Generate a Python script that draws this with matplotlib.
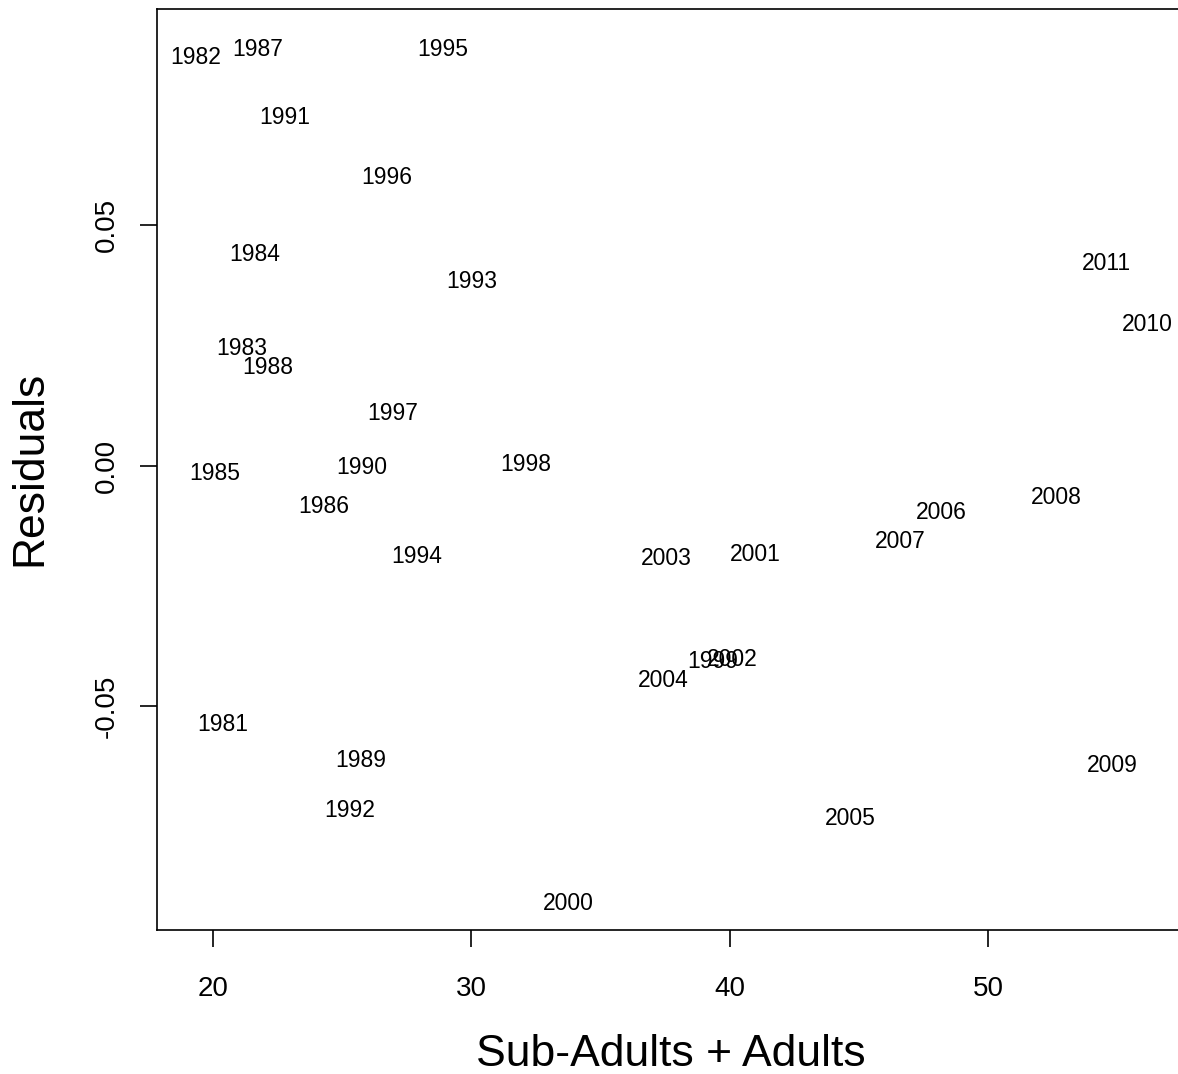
import matplotlib
matplotlib.use("Agg")
import matplotlib.pyplot as plt

plt.rcParams["font.family"] = ["Liberation Sans", "DejaVu Sans"]

# residuals of the model, one point per year, plotted as year labels
years = [1981, 1982, 1983, 1984, 1985, 1986, 1987, 1988, 1989, 1990,
         1991, 1992, 1993, 1994, 1995, 1996, 1997, 1998, 1999, 2000,
         2001, 2002, 2003, 2004, 2005, 2006, 2007, 2008, 2009, 2010, 2011]
sub_adults_adults = [20.37, 19.32, 21.13, 21.61, 20.05, 24.29, 21.74, 22.12, 25.72, 25.74,
                     22.76, 25.29, 30.03, 27.89, 28.90, 26.74, 26.96, 32.10, 39.35, 33.77,
                     40.98, 40.11, 37.56, 37.43, 44.67, 48.21, 46.62, 52.66, 54.81, 56.18, 54.57]
residuals = [-0.0532, 0.0854, 0.0249, 0.0444, -0.0011, -0.0080, 0.0870, 0.0209, -0.0607, 0.0001,
             0.0730, -0.0711, 0.0389, -0.0184, 0.0870, 0.0604, 0.0114, 0.0008, -0.0401, -0.0904,
             -0.0180, -0.0398, -0.0188, -0.0440, -0.0728, -0.0092, -0.0153, -0.0061, -0.0617, 0.0300, 0.0426]

x_ticks = [20, 30, 40, 50]
y_ticks = [-0.05, 0.00, 0.05]
y_tick_labels = ["-0.05", "0.00", "0.05"]

W, H = 1178, 1074
fig = plt.figure(figsize=(W / 100, H / 100), dpi=100)

xlim = (17.83, 57.65)
ylim = (-0.0965, 0.0950)
left_px, bottom_px, top_px = 157, 930, 9
px_per_x = 25.833
width_px = (xlim[1] - xlim[0]) * px_per_x
ax = fig.add_axes([left_px / W, 1 - bottom_px / H, width_px / W, (bottom_px - top_px) / H])

for yr, xv, yv in zip(years, sub_adults_adults, residuals):
    ax.text(xv, yv, str(yr), fontsize=16.5, ha="center", va="center_baseline")

ax.set_xlim(*xlim)
ax.set_ylim(*ylim)
ax.set_xticks(x_ticks)
ax.set_xticklabels([str(t) for t in x_ticks])
ax.set_yticks(y_ticks)
ax.set_yticklabels(y_tick_labels, rotation=90, va="center")

# box runs past the right edge of the figure
ax.spines["right"].set_visible(False)
for sp in ax.spines.values():
    sp.set_linewidth(1.2)
ax.tick_params(axis="both", direction="out", length=12.5, width=1.2, labelsize=20)
ax.tick_params(axis="x", pad=20.5)
ax.tick_params(axis="y", pad=14)

fig.text(671 / W, 1 - 1066 / H, "Sub-Adults + Adults", fontsize=32,
         ha="center", va="baseline")
fig.text(30 / W, 1 - 468 / H, "Residuals", fontsize=32, rotation=90,
         ha="center", va="center")

fig.savefig("out.png", dpi=100)
